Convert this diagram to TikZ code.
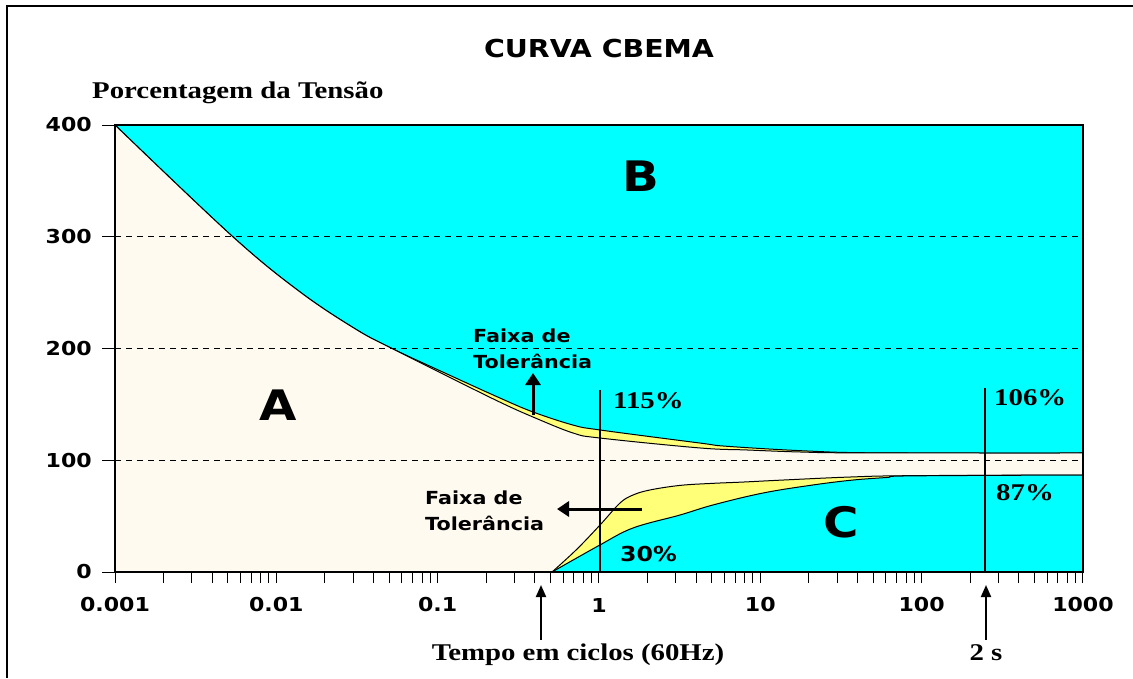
\documentclass[tikz,border=0pt]{standalone}
\usepackage{fontspec}
\setmainfont{Liberation Serif}
\newfontfamily\cbsans[FakeStretch=1.15]{DejaVu Sans}
\newfontfamily\cbserif[FakeStretch=1.2]{Liberation Serif}
\usetikzlibrary{arrows.meta}
\usetikzlibrary{calc}
\definecolor{cbcyan}{RGB}{0,255,255}
\definecolor{cbcream}{RGB}{255,250,240}
\definecolor{cbyellow}{RGB}{255,255,120}
\tikzset{
  title label/.style={font=\cbsans\bfseries\fontsize{24.7}{28}\selectfont},
  tick label/.style={font=\cbsans\bfseries\fontsize{19.2}{22}\selectfont},
  tol label/.style={font=\cbsans\bfseries\fontsize{18}{25.6}\selectfont, align=left},
  region label/.style={font=\cbsans\bfseries\fontsize{42}{46}\selectfont},
  serif label/.style={font=\cbserif\bfseries\fontsize{24}{28}\selectfont}
}

\begin{document}
\begin{tikzpicture}[x=1pt, y=-1pt, every node/.style={inner sep=0pt},
    band edge/.style={line width=1pt, draw=black},
    grid dash/.style={line width=1pt, dash pattern=on 6pt off 5pt},
    marker line/.style={line width=1.5pt},
    fat arrow/.style={line width=3pt, -{Triangle[width=15pt,length=12pt]}},
    thin arrow/.style={line width=2pt, -{Triangle[width=10pt,length=12pt]}}]
    \fill[white] (0,0) rectangle (1133,678);
    \useasboundingbox (0,0) rectangle (1133,678);
    \draw[line width=2.5pt] (7,678) -- (7,6) -- (1133,6);

    \node[title label, anchor=base] (title) at (599,57) {CURVA CBEMA};
    \node[serif label, anchor=base west] (ylabel) at (92,98.7) {Porcentagem da Tensão};

    % plot area: x in decades from 0.001 cycles, y in percent
    \begin{scope}[shift={(115,572)}, x=161.33pt, y=1.1175pt]
        \fill[cbcyan] (0,0) rectangle (6,400);
        \filldraw[band edge, fill=cbyellow] (0,0) -- plot[smooth, tension=0.6] coordinates {(0,400) (0.725,300.7) (1.147,250.6) (1.5,216.6) (1.723,199.6) (2.058,177.2) (2.386,155.7) (2.591,143.2) (2.839,131.5) (3.006,127.1) (3.626,115.4) (3.793,112.5) (4.289,108.3) (4.742,106.6) (6,106.5)} -- (6,0) -- cycle;
        \filldraw[band edge, fill=cbcream] (0,0) -- plot[smooth, tension=0.6] coordinates {(0,400) (0.725,300.7) (1.147,250.6) (1.5,216.6) (1.723,199.6) (2.058,175.4) (2.386,152) (2.591,138.7) (2.839,124.4) (3.006,119.9) (3.626,111) (3.917,109.2) (4.246,107.4) (4.618,106.6) (6,106.5)} -- (6,0) -- cycle;
        \filldraw[band edge, fill=cbyellow] plot[smooth, tension=0.6] coordinates {(2.709,0) (2.86,20) (3.006,42) (3.13,61.7) (3.211,68.9) (3.316,73.4) (3.502,77.5) (3.70,79.3) (3.893,80.5) (4.141,82.3) (4.556,85) (4.928,86.2) (6,86.8)} -- (6,0) -- cycle;
        \filldraw[band edge, fill=cbcyan] plot[smooth, tension=0.6] coordinates {(2.709,0) (3.006,24.2) (3.211,39.4) (3.502,51) (3.707,60) (4.017,70.7) (4.327,77.9) (4.574,82.3) (4.785,84.6) (4.928,86) (6,86.8)} -- (6,0) -- cycle;

        \foreach \p in {100,200,300}
            \draw[grid dash] (0,\p) -- (6,\p);
        \draw[line width=1.5pt] (0,0) rectangle (6,400);

        % log ticks
        \foreach \d in {0,...,5}
            \foreach \m in {1,...,9} {
                \pgfmathsetmacro\tx{\d+log10(\m)}
                \draw[line width=1pt] (\tx,0) -- ++(0pt,-11pt);
            }
        \draw[line width=1pt] (6,0) -- ++(0pt,-11pt);
        \foreach \p in {0,100,...,400} {
            \draw[line width=1pt] (0,\p) -- ++(-13pt,0pt);
            \node[tick label, anchor=east] (ylab\p) at ([xshift=-23pt]0,\p) {\p};
        }
        \foreach \lab [count=\i from 0] in {0.001,0.01,0.1,1,10,100,1000}
            \node[tick label] (xlab\i) at ([yshift=-33pt]\i,0) {\lab};

        \draw[marker line] (3.006,0) -- (3.006,162.9);
        \draw[marker line] (5.393,0) -- (5.393,164.7);
    \end{scope}

    \node[region label] (regA) at (278,405) {A};
    \node[region label] (regB) at (641,176) {B};
    \node[region label] (regC) at (841,522) {C};

    \node[serif label, anchor=base west] (p115) at (613,408) {115\%};
    \node[serif label, anchor=base west] (p106) at (994,405) {106\%};
    \node[serif label, anchor=base west] (p87) at (996,500.7) {87\%};
    \node[tick label, font=\cbsans\bfseries\fontsize{20.6}{24}\selectfont, anchor=base west] (p30) at (620,561.7) {30\%};

    % base anchor sits on the last line
    \node[tol label, anchor=base west] (tolup) at (473,368.3) {Faixa de\\Tolerância};
    \node[tol label, anchor=base west] (toldown) at (425,530.5) {Faixa de\\Tolerância};
    \coordinate (tolup tail) at (533,415);
    \coordinate (tolup tip) at (533,373);
    \draw[fat arrow] (tolup tail) -- (tolup tip);
    \coordinate (toldown tail) at (642,509);
    \coordinate (toldown tip) at (557,509);
    \draw[fat arrow] (toldown tail) -- (toldown tip);

    \node[serif label, anchor=base] (xlabel) at (578,660) {Tempo em ciclos (60Hz)};
    \node[serif label, anchor=base] (twosec) at (986,660) {2 s};
    \coordinate (halfcycle tail) at (541,640);
    \coordinate (halfcycle tip) at (541,585);
    \draw[thin arrow] (halfcycle tail) -- (halfcycle tip);
    \coordinate (twosec tail) at (986,640);
    \coordinate (twosec tip) at (986,585);
    \draw[thin arrow] (twosec tail) -- (twosec tip);
\end{tikzpicture}
\end{document}
